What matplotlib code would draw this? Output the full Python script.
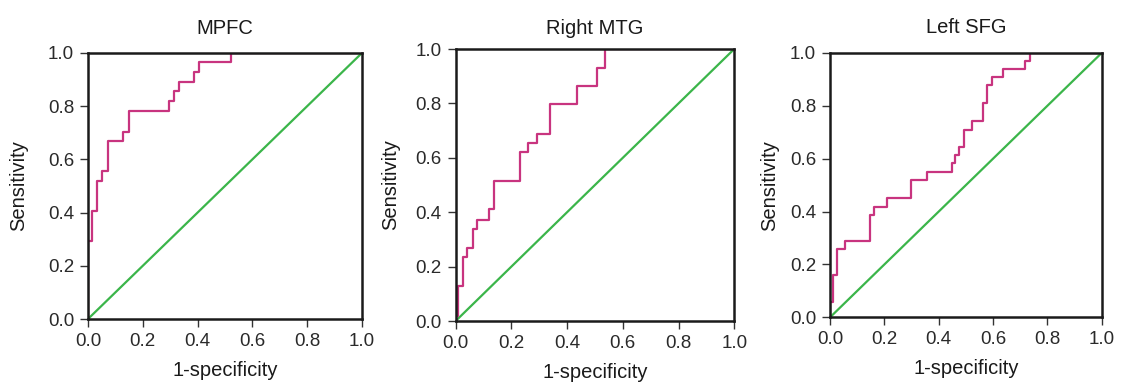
import matplotlib
matplotlib.use("Agg")
import matplotlib.pyplot as plt

plt.rcParams["font.family"] = ["Liberation Sans", "DejaVu Sans"]

# ROC curve vertices (1-specificity, sensitivity)
titles = ["MPFC", "Right MTG", "Left SFG"]

mpfc_fpr = [0, 0, 0.016, 0.033, 0.052, 0.073, 0.128, 0.150, 0.296, 0.315, 0.332,
            0.388, 0.405, 0.521, 1.0]
mpfc_tpr = [0, 0.292, 0.405, 0.518, 0.558, 0.668, 0.702, 0.781, 0.818, 0.856, 0.890,
            0.927, 0.965, 1.0, 1.0]

mtg_fpr = [0, 0, 0.010, 0.025, 0.042, 0.061, 0.075, 0.121, 0.139, 0.231, 0.261,
           0.293, 0.339, 0.434, 0.506, 0.536, 1.0]
mtg_tpr = [0, 0.019, 0.130, 0.237, 0.269, 0.340, 0.373, 0.410, 0.516, 0.620, 0.654,
           0.689, 0.796, 0.864, 0.932, 1.0, 1.0]

sfg_fpr = [0, 0, 0.010, 0.025, 0.055, 0.147, 0.160, 0.209, 0.297, 0.358, 0.448,
           0.460, 0.476, 0.493, 0.521, 0.564, 0.577, 0.595, 0.638, 0.718, 0.734, 1.0]
sfg_tpr = [0, 0.059, 0.160, 0.257, 0.290, 0.387, 0.418, 0.450, 0.519, 0.550, 0.582,
           0.613, 0.645, 0.710, 0.743, 0.811, 0.878, 0.907, 0.937, 0.970, 1.0, 1.0]

ref_line = [0, 1]
ticks = [0.0, 0.2, 0.4, 0.6, 0.8, 1.0]

curves = [(mpfc_fpr, mpfc_tpr), (mtg_fpr, mtg_tpr), (sfg_fpr, sfg_tpr)]
# axes rects in figure fractions (left, bottom, width, height)
rects = [(0.0784, 0.1714, 0.2442, 0.691),
         (0.4061, 0.1662, 0.2483, 0.7065),
         (0.7398, 0.1758, 0.2422, 0.687)]
title_pads = [14, 11, 14]
ylabel_pads = [14, 11, 8]

fig = plt.figure(figsize=(11.22, 3.85), dpi=100)
for i, (title, (fpr, tpr), rect) in enumerate(zip(titles, curves, rects)):
    ax = fig.add_axes(rect)
    ax.plot(ref_line, ref_line, color="#3bb54a", lw=1.6, zorder=2)
    ax.plot(fpr, tpr, drawstyle="steps-post", color="#c8347f", lw=1.6, zorder=2.2)
    ax.set_xlim(0, 1)
    ax.set_ylim(0, 1)
    ax.set_xticks(ticks)
    ax.set_yticks(ticks)
    ax.set_xticklabels([f"{t:.1f}" for t in ticks])
    ax.set_yticklabels([f"{t:.1f}" for t in ticks])
    for s in ax.spines.values():
        s.set_linewidth(1.8)
        s.set_color("#1a1a1a")
        s.set_zorder(3)
    ax.tick_params(direction="out", length=6, width=1.0, labelsize=13.5,
                   labelcolor="#2a2a2a", color="#333333", pad=4)
    ax.set_title(title, fontsize=14.5, pad=title_pads[i], color="#1a1a1a")
    ax.set_xlabel("1-specificity", fontsize=14.5, labelpad=8, color="#1a1a1a")
    ax.set_ylabel("Sensitivity", fontsize=14.5, labelpad=ylabel_pads[i], color="#1a1a1a")

fig.savefig("out.png", dpi=100)
